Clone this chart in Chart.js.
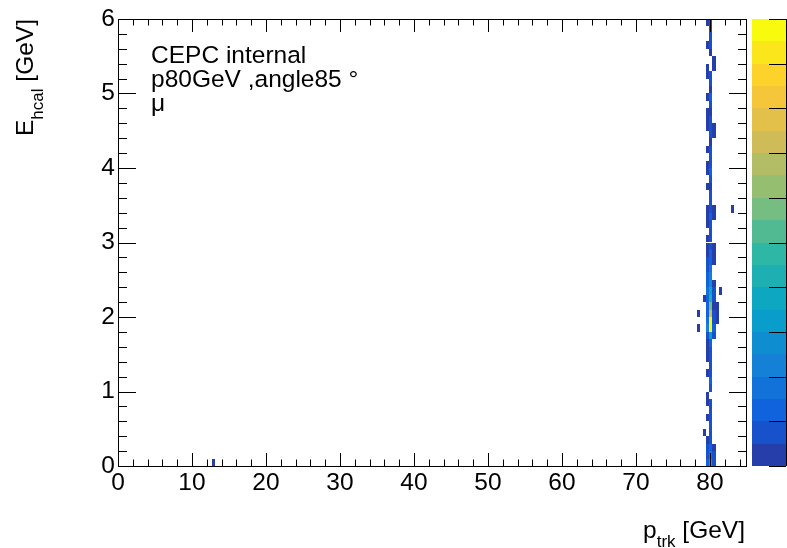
<!DOCTYPE html>
<html>
<head>
<meta charset="utf-8">
<title>E_hcal vs p_trk</title>
<script src="https://cdn.jsdelivr.net/npm/chart.js@4.4.0/dist/chart.umd.min.js"></script>
<style>
  html, body { margin: 0; padding: 0; background: #fff; }
</style>
</head>
<body>
<canvas id="hist2d" width="787" height="548"></canvas>
<script>
// binning of the 2D histogram (GeV)
const xBinWidth = 0.425;
const yBinWidth = 0.1;

const xTicks = [0, 10, 20, 30, 40, 50, 60, 70, 80];
const yTicks = [0, 1, 2, 3, 4, 5, 6];

// three columns around p = 80 GeV, counts for each E_hcal row (0-0.1, 0.1-0.2, ... 5.9-6.0)
const columnCentres = [79.6875, 80.1125, 80.5375];
const countsLeft = [12, 8, 5, 2, 0, 0, 2, 0, 2, 3, 0, 0, 2, 0, 3, 2, 4, 8, 22, 18,
                    12, 14, 12, 16, 12, 10, 8, 6, 2, 3, 2, 0, 2, 4, 3, 0, 0, 2, 0, 3,
                    2, 0, 2, 0, 0, 2, 3, 2, 0, 2, 0, 0, 2, 2, 0, 0, 2, 0, 0, 2];
const countsMid  = [34, 16, 11, 8, 7, 5, 8, 6, 6, 0, 5, 10, 7, 5, 8, 7, 10, 30, 100, 96,
                    72, 55, 44, 36, 26, 20, 17, 14, 10, 8, 8, 7, 6, 11, 8, 5, 6, 4, 6, 10,
                    6, 5, 6, 3, 5, 7, 5, 3, 6, 10, 4, 6, 5, 0, 0, 4, 6, 5, 6, 7];
const countsRight = [9, 5, 3, 0, 0, 0, 0, 0, 0, 0, 0, 0, 0, 0, 0, 0, 0, 6, 10, 8,
                     5, 3, 6, 5, 4, 0, 0, 3, 2, 2, 0, 0, 0, 2, 3, 0, 0, 0, 0, 0,
                     0, 0, 0, 0, 2, 3, 0, 0, 0, 0, 0, 0, 0, 3, 2, 0, 0, 0, 0, 0];

// isolated bins away from the main band
const strayX = [12.9625, 78.4125, 78.4125, 79.2625, 79.2625, 80.9625, 80.9625, 80.9625, 81.3875, 83.0875];
const strayY = [0.05, 1.85, 2.05, 2.25, 0.45, 1.95, 2.05, 2.15, 2.35, 3.45];
const strayN = [2, 2, 2, 2, 2, 3, 2, 2, 2, 2];

const zMax = 100;
const nContours = 20;

// kBird palette
const birdStops = [0, 0.125, 0.25, 0.375, 0.5, 0.625, 0.75, 0.875, 1];
const birdR = [0.2082, 0.0592, 0.0780, 0.0232, 0.1802, 0.5301, 0.8186, 0.9956, 0.9764];
const birdG = [0.1664, 0.3599, 0.5041, 0.6419, 0.7178, 0.7492, 0.7328, 0.7862, 0.9832];
const birdB = [0.5293, 0.8684, 0.8385, 0.7914, 0.6425, 0.4662, 0.3499, 0.1968, 0.0539];

function birdColor(f) {
  let i = 0;
  while (i < birdStops.length - 2 && f > birdStops[i + 1]) i++;
  const t = (f - birdStops[i]) / (birdStops[i + 1] - birdStops[i]);
  const c = arr => Math.round(255 * (arr[i] + t * (arr[i + 1] - arr[i])));
  return `rgb(${c(birdR)},${c(birdG)},${c(birdB)})`;
}

function levelOf(n) {
  return Math.min(nContours - 1, Math.floor(n / zMax * nContours));
}

function contourColor(level) {
  return birdColor(Math.min(1, (level + 0.99) / nContours));
}

const cells = [];
[countsLeft, countsMid, countsRight].forEach((col, c) => {
  col.forEach((n, r) => {
    if (n > 0) cells.push({ x: columnCentres[c], y: (r + 0.5) * yBinWidth, n: n });
  });
});
strayX.forEach((x, i) => cells.push({ x: x, y: strayY[i], n: strayN[i] }));

const FONT = '"Liberation Sans", Arial, Helvetica, sans-serif';

const colzPlugin = {
  id: 'colz',
  beforeDatasetsDraw(chart) {
    const ctx = chart.ctx;
    const xs = chart.scales.x;
    const ys = chart.scales.y;
    ctx.save();
    chart.data.datasets[0].data.forEach(cell => {
      const x0 = Math.round(xs.getPixelForValue(cell.x - xBinWidth / 2));
      const x1 = Math.round(xs.getPixelForValue(cell.x + xBinWidth / 2));
      const y0 = Math.round(ys.getPixelForValue(cell.y + yBinWidth / 2));
      const y1 = Math.round(ys.getPixelForValue(cell.y - yBinWidth / 2));
      ctx.fillStyle = contourColor(levelOf(cell.n));
      ctx.fillRect(x0, y0, x1 - x0, y1 - y0);
    });
    ctx.restore();
  },
  afterDraw(chart) {
    const ctx = chart.ctx;
    const a = chart.chartArea;
    const xs = chart.scales.x;
    const ys = chart.scales.y;
    ctx.save();
    ctx.strokeStyle = '#000';
    ctx.lineWidth = 1;

    // frame
    ctx.strokeRect(Math.round(a.left) + 0.5, Math.round(a.top) + 0.5,
      Math.round(a.right - a.left) - 1, Math.round(a.bottom - a.top));

    ctx.beginPath();
    // x ticks, bottom and top
    for (let v = 0; v <= 85; v += 2) {
      const len = v % 10 === 0 ? 13 : 6.5;
      const px = Math.round(xs.getPixelForValue(v)) + 0.5;
      ctx.moveTo(px, a.bottom); ctx.lineTo(px, a.bottom - len);
      ctx.moveTo(px, a.top); ctx.lineTo(px, a.top + len);
    }
    // y ticks, left and right
    for (let k = 0; k <= 30; k++) {
      const len = k % 5 === 0 ? 18 : 9;
      const py = Math.round(ys.getPixelForValue(k * 0.2)) + 0.5;
      ctx.moveTo(a.left, py); ctx.lineTo(a.left + len, py);
      ctx.moveTo(a.right, py); ctx.lineTo(a.right - len, py);
    }
    ctx.stroke();

    // colour palette
    const pl = 752, pr = 786, pt = a.top, pb = a.bottom;
    const bandH = (pb - pt) / nContours;
    for (let i = 0; i < nContours; i++) {
      const y0 = Math.round(pb - (i + 1) * bandH);
      const y1 = Math.round(pb - i * bandH);
      ctx.fillStyle = contourColor(i);
      ctx.fillRect(pl, y0, pr - pl, y1 - y0);
    }
    ctx.beginPath();
    ctx.moveTo(pr + 0.5, pt); ctx.lineTo(pr + 0.5, pb);
    for (let i = 0; i <= 10; i++) {
      const py = Math.round(pb - i * (pb - pt) / 10) + 0.5;
      ctx.moveTo(pr, py); ctx.lineTo(pr - 17, py);
    }
    ctx.stroke();

    ctx.fillStyle = '#000';
    ctx.textBaseline = 'alphabetic';
    ctx.textAlign = 'left';

    // x title: p_trk [GeV]
    const big = '24.5px ' + FONT;
    const small = '17px ' + FONT;
    ctx.font = big;
    const wp = ctx.measureText('p').width;
    const wg = ctx.measureText(' [GeV]').width;
    ctx.font = small;
    const wt = ctx.measureText('trk').width;
    let x = 745 - wp - wt - wg;
    ctx.font = big;
    ctx.fillText('p', x, 538);
    ctx.font = small;
    ctx.fillText('trk', x + wp, 547);
    ctx.font = big;
    ctx.fillText(' [GeV]', x + wp + wt, 538);

    // y title: E_hcal [GeV]
    ctx.save();
    ctx.translate(33, a.top);
    ctx.rotate(-Math.PI / 2);
    ctx.font = big;
    const we = ctx.measureText('E').width;
    ctx.font = small;
    const wh = ctx.measureText('hcal').width;
    x = -(we + wh + wg);
    ctx.font = big;
    ctx.fillText('E', x, 0);
    ctx.font = small;
    ctx.fillText('hcal', x + we, 10);
    ctx.font = big;
    ctx.fillText(' [GeV]', x + we + wh, 0);
    ctx.restore();

    // labels inside the frame
    ctx.font = '24.5px ' + FONT;
    ctx.fillText('CEPC internal', 151, 63);
    ctx.fillText('p80GeV ,angle85 °', 151, 87);
    ctx.fillText('μ', 151, 111);

    ctx.restore();
  }
};

const tickFont = { family: FONT, size: 24.5 };

new Chart(document.getElementById('hist2d'), {
  type: 'scatter',
  data: {
    datasets: [{
      data: cells,
      pointRadius: 0,
      pointHoverRadius: 0
    }]
  },
  options: {
    responsive: false,
    animation: false,
    events: [],
    layout: { padding: { top: 19, right: 40, left: 0, bottom: 0 } },
    plugins: {
      legend: { display: false },
      tooltip: { enabled: false }
    },
    scales: {
      x: {
        type: 'linear',
        min: 0,
        max: 85,
        grid: { display: false, drawTicks: false },
        border: { display: false },
        afterBuildTicks: scale => { scale.ticks = xTicks.map(v => ({ value: v })); },
        afterFit: scale => { scale.height = 82; },
        ticks: { font: tickFont, color: '#000', padding: 3, maxRotation: 0, autoSkip: false }
      },
      y: {
        type: 'linear',
        min: 0,
        max: 6,
        grid: { display: false, drawTicks: false },
        border: { display: false },
        afterBuildTicks: scale => { scale.ticks = yTicks.map(v => ({ value: v })); },
        afterFit: scale => { scale.width = 118; },
        ticks: { font: tickFont, color: '#000', padding: 3, autoSkip: false }
      }
    }
  },
  plugins: [colzPlugin]
});
</script>
</body>
</html>
